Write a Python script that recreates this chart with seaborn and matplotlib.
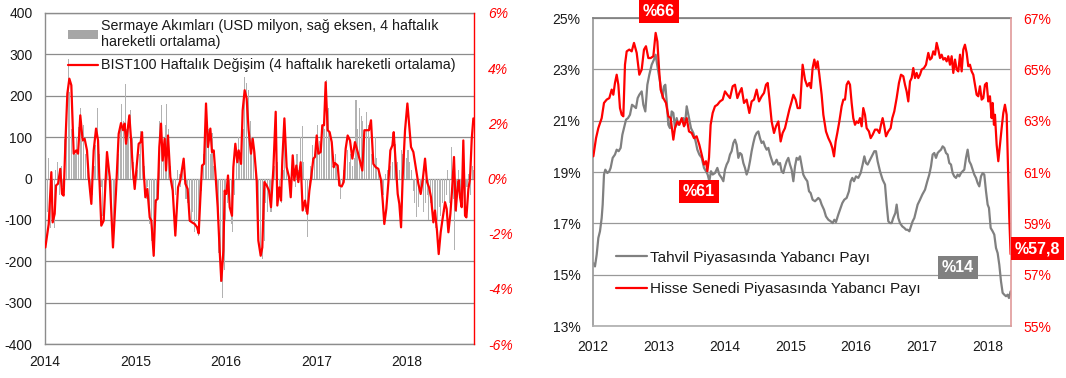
import numpy as np
import pandas as pd
import matplotlib
matplotlib.use("Agg")
import matplotlib.pyplot as plt
import seaborn as sns
from matplotlib.ticker import FuncFormatter, MultipleLocator
from matplotlib.patches import Patch
from matplotlib.lines import Line2D

# ---- left panel: weekly capital flows (USD mn, 4w MA) ----
flow_start = "2014-01-03"
flows = [
    -30, -80, 50, -120, -60, -120, 20, 40, -40, 30,
    -20, 95, 120, 290, 210, 120, 80, 60, 100, 124,
    170, 90, 130, 60, 20, 15, -20, -40, 30, 80,
    170, 60, -20, -90, -100, 10, 60, 20, -60, -145,
    -120, -40, 60, 130, 180, 140, 229, 120, 150, 165,
    100, 40, -20, 20, 60, 116, 90, 30, -50, -20,
    -110, -150, -190, -170, -60, 60, 140, 177, 80, 130,
    180, 120, 30, -30, -80, -40, 20, 10, -20, 30,
    40, -50, -60, -90, -100, -80, -130, -100, -140, -90,
    -30, 60, 100, 140, 120, 60, 110, 30, 20, -60,
    -180, -250, -290, -220, -100, -60, -50, -110, -130, -40,
    60, 100, 50, 80, 120, 245, 230, 213, 140, 100,
    80, 30, -60, -120, -185, -195, -150, -60, -80, -40,
    -80, -20, 30, 80, 40, -40, -60, 20, 100, 60,
    10, -40, 20, 40, -20, 60, 20, 100, 128, 40,
    -80, -142, -40, 30, 80, 60, 100, 130, 90, 70,
    136, 120, 237, 170, 110, 90, 40, 60, 30, 20,
    -50, -10, 20, 50, 68, 40, 60, 30, 50, 189,
    120, 170, 150, 140, 110, 160, 130, 100, 60, 40,
    100, 50, 20, -10, -30, -40, 10, 20, -20, 30,
    40, 60, 84, 40, 20, 70, 60, 80, 50, 70,
    40, 20, -30, -60, -94, -70, -40, -20, -80, -60,
    -40, -100, -60, -95, -80, -120, -100, -70, -90, -60,
    -80, -40, 20, -60, 76, -50, -174, -80, 20, -40,
    -60, 30, -80, -20, 10, -40, 30, 20,
]

# BIST100 weekly change (%), x = years after 2014
bist_t = [
    0.004, 0.041, 0.070, 0.085, 0.107, 0.122, 0.144, 0.169, 0.188, 0.206,
    0.225, 0.247, 0.269, 0.291, 0.317, 0.346, 0.365, 0.390, 0.416, 0.438,
    0.464, 0.483, 0.512, 0.538, 0.564, 0.586, 0.600, 0.622, 0.648, 0.685,
    0.715, 0.751, 0.785, 0.814, 0.840, 0.862, 0.880, 0.895, 0.932, 0.954,
    0.969, 0.991, 1.035, 1.057, 1.072, 1.090, 1.109, 1.131, 1.157, 1.175,
    1.201, 1.223, 1.245, 1.263, 1.282, 1.300, 1.322, 1.337, 1.359, 1.385,
    1.411, 1.440, 1.470, 1.495, 1.532, 1.551, 1.576, 1.599, 1.624, 1.654,
    1.680, 1.698, 1.716, 1.735, 1.757, 1.779, 1.801, 1.827, 1.845, 1.864,
    1.882, 1.908, 1.930, 1.948, 1.971, 1.985, 2.004, 2.022, 2.041, 2.066,
    2.081, 2.103, 2.125, 2.140, 2.166, 2.184, 2.206, 2.228, 2.250, 2.276,
    2.295, 2.313, 2.339, 2.357, 2.383, 2.401, 2.424, 2.449, 2.475, 2.497,
    2.523, 2.549, 2.567, 2.589, 2.608, 2.622, 2.645, 2.670, 2.696, 2.715,
    2.737, 2.755, 2.777, 2.799, 2.825, 2.847, 2.873, 2.899, 2.921, 2.939,
    2.965, 2.983, 3.002, 3.020, 3.046, 3.064, 3.083, 3.101, 3.123, 3.145,
    3.168, 3.190, 3.204, 3.234, 3.252, 3.278, 3.300, 3.322, 3.344, 3.370,
    3.396, 3.425, 3.455, 3.484, 3.506, 3.529, 3.554, 3.580, 3.602, 3.628,
    3.654, 3.683, 3.713, 3.731, 3.749, 3.771, 3.794, 3.816, 3.838, 3.853,
    3.875, 3.897, 3.915, 3.934, 3.952, 3.978, 4.004, 4.022, 4.044, 4.070,
    4.096, 4.125, 4.151, 4.173, 4.199, 4.221, 4.243, 4.265, 4.291, 4.309,
    4.331, 4.350, 4.372, 4.390, 4.420, 4.438, 4.457, 4.479, 4.497, 4.519,
    4.538, 4.556, 4.571, 4.586, 4.604, 4.622, 4.641, 4.656, 4.678, 4.696,
    4.715, 4.733,
]
bist_chg = [
    -2.50, -1.65, 0.23, -1.59, -1.28, -0.25, -0.19, 0.35, -0.56, -0.62,
    1.26, 3.08, 3.62, 3.38, 0.90, 1.02, 0.90, 2.29, 1.38, 1.44,
    1.02, 0.05, -0.92, 1.02, 1.81, 1.38, 0.05, -1.71, -1.53, 0.96,
    0.05, -2.50, -0.44, 1.62, 2.01, 1.75, 1.99, 1.26, 2.29, 1.26,
    0.41, -0.38, 1.26, 1.32, 1.68, 0.29, -0.68, -0.38, -1.41, -1.53,
    -2.80, -0.80, -0.74, 1.14, 1.99, 0.65, 1.44, 0.29, 1.56, 0.05,
    -0.44, -2.07, -0.32, -0.07, 0.72, -0.19, -0.38, -1.53, -1.59, -1.65,
    -1.77, -1.99, -0.74, 0.47, 0.53, 2.72, 1.14, 1.81, 0.96, 1.02,
    0.23, -1.04, -2.62, -3.71, -2.62, -0.44, -0.56, 0.11, -1.04, -1.35,
    0.41, 1.26, 0.59, 1.02, 0.53, 2.47, 3.20, 2.90, 1.75, 0.90,
    1.44, 0.96, -0.07, -2.25, -2.80, -2.50, -0.13, -0.25, -0.44, -1.04,
    0.35, 2.42, -0.98, -0.32, -0.80, 0.65, 2.18, 0.41, 0.05, -0.68,
    0.84, -0.07, 0.47, -0.13, 0.59, -1.16, -0.80, -1.28, -0.44, -0.01,
    0.72, 0.78, 1.56, 0.90, 0.96, 1.93, 1.93, 3.49, 1.75, 1.68,
    1.32, 0.41, 0.56, 0.47, -0.25, -0.29, -0.13, 1.08, 1.56, 1.38,
    0.72, 1.32, 0.96, 0.59, 0.29, 1.75, 1.75, 1.75, 2.11, 0.53,
    0.41, 0.35, -0.07, -0.80, -1.65, -1.10, -0.13, 1.02, 1.20, 1.68,
    0.53, -0.56, -0.92, -1.77, 0.05, 1.75, 2.72, 2.00, 1.14, 0.96,
    0.41, -0.19, -0.56, -0.07, 0.72, -0.13, -0.32, -0.68, -1.59, -1.16,
    -1.89, -2.74, -1.95, -1.53, -0.86, -1.10, -1.95, -1.28, -0.44, 0.78,
    -1.16, -0.44, -0.07, -0.68, -1.04, 1.38, -1.35, -1.41, -0.38, -0.01,
    1.44, 2.18,
]

# ---- right panel: foreign share (%), x = years after 2012 ----
bond_t = [
    0.005, 0.030, 0.056, 0.081, 0.106, 0.132, 0.147, 0.167, 0.187, 0.218,
    0.248, 0.268, 0.299, 0.334, 0.360, 0.390, 0.420, 0.446, 0.471, 0.502,
    0.532, 0.562, 0.593, 0.623, 0.653, 0.679, 0.704, 0.740, 0.765, 0.795,
    0.826, 0.856, 0.892, 0.927, 0.952, 0.983, 1.018, 1.059, 1.079, 1.099,
    1.120, 1.145, 1.170, 1.196, 1.221, 1.246, 1.272, 1.297, 1.332, 1.373,
    1.398, 1.424, 1.459, 1.489, 1.525, 1.560, 1.586, 1.616, 1.652, 1.687,
    1.717, 1.743, 1.768, 1.793, 1.819, 1.854, 1.890, 1.920, 1.955, 1.981,
    2.006, 2.031, 2.057, 2.082, 2.107, 2.133, 2.158, 2.183, 2.209, 2.234,
    2.259, 2.285, 2.310, 2.335, 2.361, 2.386, 2.411, 2.437, 2.462, 2.487,
    2.513, 2.538, 2.563, 2.589, 2.614, 2.639, 2.665, 2.690, 2.715, 2.741,
    2.766, 2.791, 2.817, 2.842, 2.867, 2.893, 2.918, 2.943, 2.969, 2.994,
    3.019, 3.045, 3.070, 3.095, 3.120, 3.146, 3.196, 3.222, 3.257, 3.283,
    3.308, 3.338, 3.374, 3.399, 3.424, 3.450, 3.475, 3.511, 3.541, 3.577,
    3.612, 3.643, 3.668, 3.693, 3.728, 3.754, 3.789, 3.819, 3.855, 3.890,
    3.916, 3.941, 3.966, 3.997, 4.032, 4.068, 4.098, 4.124, 4.149, 4.174,
    4.200, 4.225, 4.250, 4.276, 4.301, 4.326, 4.362, 4.402, 4.438, 4.463,
    4.488, 4.514, 4.539, 4.564, 4.595, 4.615, 4.640, 4.666, 4.701, 4.732,
    4.757, 4.782, 4.808, 4.833, 4.858, 4.884, 4.909, 4.934, 4.970, 5.005,
    5.046, 5.081, 5.111, 5.137, 5.162, 5.187, 5.213, 5.238, 5.263, 5.289,
    5.314, 5.339, 5.365, 5.390, 5.415, 5.441, 5.466, 5.491, 5.517, 5.542,
    5.567, 5.593, 5.618, 5.643, 5.669, 5.694, 5.719, 5.745, 5.770, 5.795,
    5.821, 5.846, 5.871, 5.897, 5.922, 5.947, 5.973, 5.998, 6.018, 6.044,
    6.074, 6.099, 6.125, 6.150, 6.175, 6.201, 6.226, 6.251, 6.277, 6.302,
    6.322, 6.347,
]
bond_share = [
    15.45, 15.32, 15.78, 16.43, 16.69, 17.21, 17.73, 18.90, 19.09, 18.96,
    19.03, 19.16, 19.55, 19.68, 19.87, 19.81, 19.94, 20.45, 20.71, 21.04,
    21.10, 21.23, 21.62, 21.56, 21.49, 21.88, 22.01, 22.14, 21.62, 21.36,
    22.40, 22.79, 23.18, 23.38, 23.57, 23.05, 22.53, 21.88, 22.34, 22.40,
    21.75, 20.84, 20.71, 21.36, 21.30, 20.71, 21.10, 20.84, 20.97, 21.10,
    20.84, 21.56, 21.10, 20.71, 20.52, 20.19, 19.87, 19.68, 19.55, 19.16,
    19.03, 18.90, 18.64, 19.03, 18.90, 18.96, 19.16, 18.90, 18.77, 18.64,
    19.09, 19.29, 19.42, 19.68, 19.81, 20.13, 20.26, 20.06, 19.55, 19.74,
    19.68, 19.35, 19.16, 18.90, 19.09, 19.42, 19.81, 20.13, 20.39, 20.52,
    20.58, 20.32, 20.13, 20.19, 20.00, 19.87, 19.94, 19.68, 19.48, 19.29,
    19.35, 19.48, 19.29, 19.35, 19.03, 18.96, 19.22, 19.42, 19.55, 19.29,
    19.09, 18.64, 19.22, 19.55, 19.48, 19.61, 18.90, 18.77, 18.64, 18.25,
    18.18, 17.92, 17.86, 17.92, 17.99, 17.92, 17.73, 17.53, 17.27, 17.14,
    17.08, 17.01, 17.14, 17.05, 17.34, 17.53, 17.79, 17.92, 17.99, 18.25,
    18.64, 18.77, 18.64, 18.83, 18.77, 18.96, 19.29, 19.61, 19.35, 19.29,
    19.42, 19.55, 19.68, 19.81, 19.81, 19.42, 19.03, 18.70, 18.51, 17.73,
    17.08, 17.01, 17.01, 17.21, 17.40, 17.73, 17.21, 17.01, 16.88, 16.82,
    16.75, 16.75, 16.69, 16.88, 17.08, 17.21, 17.47, 17.73, 17.92, 18.12,
    18.31, 18.64, 18.90, 19.22, 19.68, 19.74, 19.55, 19.74, 19.81, 19.87,
    20.00, 19.94, 19.74, 19.68, 19.35, 19.29, 18.96, 18.83, 18.77, 18.90,
    18.83, 18.96, 19.03, 19.09, 19.55, 19.87, 19.42, 19.29, 19.09, 18.90,
    18.77, 18.57, 18.44, 18.83, 18.96, 18.90, 18.25, 17.73, 17.60, 16.82,
    16.69, 16.56, 16.04, 15.84, 15.39, 14.74, 14.29, 14.22, 14.16, 14.22,
    14.09, 14.35,
]

equity_t = [
    0.005, 0.046, 0.081, 0.132, 0.167, 0.208, 0.248, 0.284, 0.309, 0.334,
    0.360, 0.385, 0.410, 0.436, 0.461, 0.486, 0.512, 0.552, 0.588, 0.623,
    0.664, 0.704, 0.740, 0.775, 0.805, 0.841, 0.876, 0.917, 0.952, 0.978,
    1.003, 1.028, 1.069, 1.109, 1.145, 1.180, 1.221, 1.246, 1.282, 1.312,
    1.348, 1.383, 1.424, 1.459, 1.500, 1.535, 1.575, 1.616, 1.652, 1.687,
    1.717, 1.738, 1.763, 1.788, 1.819, 1.854, 1.890, 1.930, 1.971, 2.006,
    2.042, 2.082, 2.123, 2.158, 2.194, 2.224, 2.259, 2.295, 2.335, 2.376,
    2.411, 2.447, 2.487, 2.523, 2.563, 2.599, 2.629, 2.655, 2.680, 2.715,
    2.751, 2.781, 2.817, 2.852, 2.882, 2.918, 2.953, 2.984, 3.019, 3.045,
    3.080, 3.110, 3.146, 3.186, 3.222, 3.257, 3.288, 3.313, 3.338, 3.364,
    3.389, 3.414, 3.440, 3.475, 3.501, 3.541, 3.577, 3.612, 3.637, 3.663,
    3.688, 3.713, 3.744, 3.779, 3.805, 3.830, 3.855, 3.881, 3.906, 3.931,
    3.956, 3.982, 4.007, 4.033, 4.058, 4.083, 4.108, 4.134, 4.159, 4.194,
    4.220, 4.250, 4.286, 4.321, 4.352, 4.377, 4.402, 4.423, 4.453, 4.488,
    4.524, 4.549, 4.579, 4.615, 4.650, 4.681, 4.716, 4.742, 4.767, 4.792,
    4.818, 4.843, 4.868, 4.894, 4.919, 4.944, 4.970, 4.995, 5.030, 5.061,
    5.096, 5.122, 5.147, 5.172, 5.198, 5.223, 5.248, 5.274, 5.299, 5.324,
    5.350, 5.375, 5.400, 5.426, 5.451, 5.476, 5.502, 5.527, 5.552, 5.578,
    5.603, 5.628, 5.653, 5.679, 5.704, 5.729, 5.755, 5.780, 5.805, 5.831,
    5.856, 5.881, 5.907, 5.932, 5.957, 5.983, 6.008, 6.033, 6.059, 6.074,
    6.094, 6.109, 6.135, 6.160, 6.185, 6.211, 6.236, 6.261, 6.287, 6.312,
    6.327, 6.347,
]
equity_share = [
    61.61, 62.32, 62.71, 63.10, 63.69, 63.82, 63.88, 64.21, 64.01, 64.47,
    64.79, 64.40, 63.49, 63.23, 63.17, 65.18, 65.70, 65.77, 65.70, 66.03,
    65.64, 64.79, 64.99, 65.77, 65.90, 65.44, 65.44, 65.51, 66.42, 66.09,
    65.05, 64.21, 63.88, 63.69, 63.17, 63.10, 62.26, 62.71, 62.97, 62.84,
    63.10, 62.78, 63.10, 62.58, 62.52, 62.32, 62.39, 62.06, 61.68, 61.29,
    61.42, 61.03, 61.55, 62.84, 63.30, 63.56, 63.62, 63.75, 63.82, 64.14,
    64.01, 63.88, 64.34, 64.40, 63.88, 64.08, 64.27, 63.69, 63.82, 63.30,
    63.75, 63.82, 64.21, 63.75, 63.95, 64.08, 64.40, 64.47, 63.88, 62.97,
    62.52, 62.78, 62.97, 62.19, 62.52, 62.71, 63.10, 63.43, 63.75, 64.01,
    63.82, 63.49, 63.49, 65.18, 64.60, 64.34, 64.47, 64.27, 65.05, 65.38,
    65.05, 65.31, 64.79, 64.01, 63.23, 62.58, 62.32, 62.13, 61.94, 61.61,
    62.19, 62.52, 62.97, 63.56, 63.82, 63.82, 64.40, 64.53, 64.40, 63.69,
    63.10, 62.84, 62.97, 62.91, 63.10, 62.78, 63.49, 63.23, 62.71, 62.58,
    62.32, 62.45, 62.65, 62.65, 62.52, 62.84, 63.10, 62.84, 62.39, 62.58,
    62.71, 63.10, 63.36, 63.88, 64.47, 64.79, 64.73, 64.40, 64.14, 63.75,
    64.53, 64.66, 65.05, 64.66, 64.86, 64.66, 64.79, 64.99, 65.05, 65.18,
    65.64, 65.38, 65.44, 65.70, 65.57, 66.03, 65.77, 65.44, 65.57, 65.38,
    65.44, 65.31, 65.51, 65.18, 65.51, 64.86, 65.38, 64.99, 64.92, 65.57,
    64.92, 65.77, 65.96, 65.64, 65.12, 65.18, 64.92, 64.79, 64.40, 64.01,
    63.95, 64.34, 63.82, 63.88, 64.40, 64.47, 63.75, 63.95, 63.10, 63.69,
    62.84, 63.23, 62.06, 61.42, 62.06, 62.71, 63.30, 63.62, 63.23, 60.77,
    59.21, 57.80,
]

# tick values of the four y axes
flow_ticks = [-400, -300, -200, -100, 0, 100, 200, 300, 400]
chg_ticks = [-6, -4, -2, 0, 2, 4, 6]
bond_ticks = [13, 15, 17, 19, 21, 23, 25]
equity_ticks = [55, 57, 59, 61, 63, 65, 67]

# ---- style ----
sns.set_theme(style="white")
plt.rcParams["font.family"] = ["Liberation Sans", "DejaVu Sans"]
plt.rcParams["axes.unicode_minus"] = False

RED = "#ff0000"
GREY_LINE = "#808080"
BAR = "#b2b2b2"
GRID = "#8c8c8c"
TXT = "#1a1a1a"

fig = plt.figure(figsize=(10.66, 3.78), dpi=100)

# ================= LEFT PANEL =================
ax1 = fig.add_axes([45 / 1066, 34 / 378, 429 / 1066, 331 / 378])
ax1b = ax1.twinx()

flow_dates = pd.date_range(flow_start, periods=len(flows), freq="7D")
flow_x = 2014 + (flow_dates - pd.Timestamp("2014-01-01")).days / 365.25
ax1.bar(flow_x, flows, width=0.6 / 52.18, color=BAR, linewidth=0, zorder=2)

bist_x = 2014 + np.array(bist_t)
sns.lineplot(x=bist_x, y=bist_chg, ax=ax1b, color=RED, linewidth=1.6,
             estimator=None, sort=False)

ax1.set_xlim(2014, 2018.74)
ax1.set_ylim(-400, 400)
ax1b.set_ylim(-6, 6)
ax1.set_yticks(flow_ticks)
ax1b.set_yticks(chg_ticks)
ax1.xaxis.set_major_locator(MultipleLocator(1))
ax1.xaxis.set_major_formatter(FuncFormatter(lambda v, p: f"{v:.0f}"))
ax1.yaxis.set_major_formatter(FuncFormatter(lambda v, p: f"{v:.0f}"))
ax1b.yaxis.set_major_formatter(FuncFormatter(lambda v, p: f"{v:.0f}%"))

ax1.grid(axis="y", color=GRID, linewidth=0.9)
ax1.grid(axis="x", visible=False)
ax1b.grid(False)
ax1.set_axisbelow(True)

ax1.tick_params(axis="y", length=0, pad=9, labelsize=10, labelcolor=TXT)
ax1.tick_params(axis="x", length=0, pad=8, labelsize=10, labelcolor=TXT)
ax1b.tick_params(axis="y", length=0, pad=10, labelsize=10, labelcolor=RED)
for lab in ax1b.get_yticklabels():
    lab.set_fontstyle("italic")

for side in ["left", "top", "bottom"]:
    ax1.spines[side].set_color(GRID)
    ax1.spines[side].set_linewidth(1.0)
    ax1b.spines[side].set_visible(False)
ax1.spines["right"].set_visible(False)
ax1b.spines["right"].set_color(RED)
ax1b.spines["right"].set_linewidth(1.0)
ax1.set_xlabel("")
ax1b.set_ylabel("")

h1 = [Patch(facecolor="#a6a6a6", edgecolor="none"),
      Line2D([], [], color=RED, linewidth=1.6)]
l1 = ["Sermaye Akımları (USD milyon, sağ eksen, 4 haftalık\nhareketli ortalama)",
      "BIST100 Haftalık Değişim (4 haftalık hareketli ortalama)"]
ax1b.legend(h1, l1, loc="upper left", bbox_to_anchor=(0.054, 0.982),
            frameon=False, fontsize=10.3, handlelength=2.1, handleheight=0.6,
            handletextpad=0.2, labelspacing=0.65, borderpad=0, borderaxespad=0,
            labelcolor=TXT)

# ================= RIGHT PANEL =================
ax2 = fig.add_axes([593 / 1066, 52 / 378, 418 / 1066, 308 / 378])
ax2b = ax2.twinx()

sns.lineplot(x=2012 + np.array(bond_t), y=bond_share, ax=ax2, color=GREY_LINE,
             linewidth=1.6, estimator=None, sort=False)
sns.lineplot(x=2012 + np.array(equity_t), y=equity_share, ax=ax2b, color=RED,
             linewidth=1.6, estimator=None, sort=False)

ax2.set_xlim(2012, 2018.353)
ax2.set_ylim(13, 25)
ax2b.set_ylim(55, 67)
ax2.set_yticks(bond_ticks)
ax2b.set_yticks(equity_ticks)
ax2.xaxis.set_major_locator(MultipleLocator(1))
ax2.xaxis.set_major_formatter(FuncFormatter(lambda v, p: f"{v:.0f}"))
ax2.yaxis.set_major_formatter(FuncFormatter(lambda v, p: f"{v:.0f}%"))
ax2b.yaxis.set_major_formatter(FuncFormatter(lambda v, p: f"{v:.0f}%"))

ax2.grid(axis="y", color="#999999", linewidth=0.9)
ax2.grid(axis="x", visible=False)
ax2b.grid(False)
ax2.tick_params(axis="y", length=0, pad=9, labelsize=10, labelcolor=TXT)
ax2.tick_params(axis="x", length=0, pad=10, labelsize=10, labelcolor=TXT)
ax2b.tick_params(axis="y", length=0, pad=9, labelsize=10, labelcolor=RED)

ax2.spines["left"].set_color("#999999")
ax2.spines["top"].set_color("#808080")
ax2.spines["bottom"].set_color("#b0b0b0")
ax2.spines["right"].set_visible(False)
for side in ["left", "top", "bottom"]:
    ax2b.spines[side].set_visible(False)
ax2b.spines["right"].set_color("#e09a9a")
ax2b.spines["right"].set_linewidth(1.2)
ax2.set_ylabel("")
ax2b.set_ylabel("")

h2 = [Line2D([], [], color=GREY_LINE, linewidth=1.6),
      Line2D([], [], color=RED, linewidth=1.6)]
l2 = ["Tahvil Piyasasında Yabancı Payı", "Hisse Senedi Piyasasında Yabancı Payı"]
ax2b.legend(h2, l2, loc="upper left", bbox_to_anchor=(0.055, 0.245),
            frameon=False, fontsize=11, handlelength=2.0, handletextpad=0.2,
            labelspacing=1.15, borderpad=0, borderaxespad=0, labelcolor=TXT)

# callouts
box = dict(boxstyle="square,pad=0.25", edgecolor="none")
ax2b.text(2013.0, 67.25, "%66", color="white", fontsize=11.5, fontweight="bold",
          ha="center", va="center", clip_on=False, bbox={**box, "facecolor": RED})
ax2b.text(2013.61, 60.23, "%61", color="white", fontsize=11.5, fontweight="bold",
          ha="center", va="center", bbox={**box, "facecolor": RED})
ax2.text(2017.55, 15.27, "%14", color="white", fontsize=11.5, fontweight="bold",
         ha="center", va="center", bbox={**box, "facecolor": GREY_LINE})
ax2b.text(2018.76, 58.01, "%57,8", color="white", fontsize=11.5, fontweight="bold",
          ha="center", va="center", clip_on=False, zorder=10,
          bbox={**box, "facecolor": RED})

fig.savefig("out.png", dpi=100)
